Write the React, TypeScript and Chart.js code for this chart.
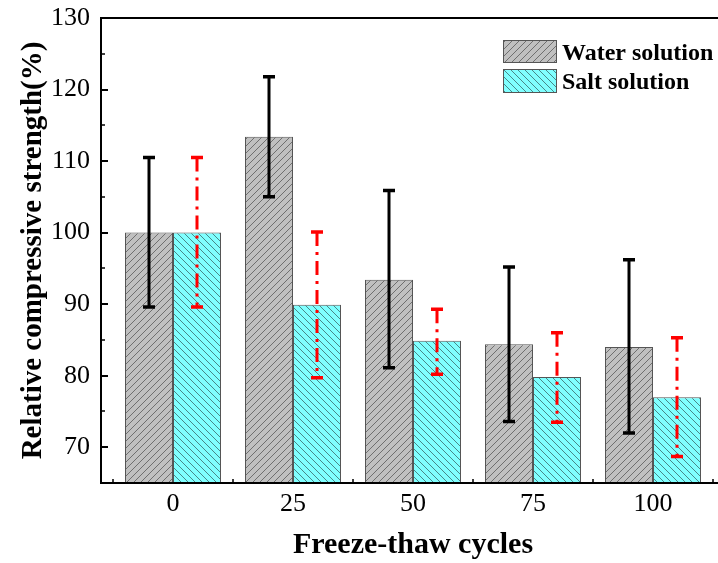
import React, { useEffect, useRef } from 'react';
import { Chart, registerables } from 'chart.js';

Chart.register(...registerables);

// ---- data ----
const cycles = [0, 25, 50, 75, 100];
const waterMean = [100, 113.4, 93.4, 84.4, 84.0];
const waterLow = [89.6, 105.0, 81.1, 73.6, 72.0];
const waterHigh = [110.5, 121.8, 105.9, 95.2, 96.2];
const saltMean = [100, 89.9, 84.9, 79.8, 77.0];
const saltLow = [89.6, 79.7, 80.2, 73.5, 68.7];
const saltHigh = [110.5, 100.1, 89.3, 86.0, 85.3];
const seriesNames = ['Water solution', 'Salt solution'];
const yTicks = [70, 80, 90, 100, 110, 120, 130];
const yMinorTicks = [75, 85, 95, 105, 115, 125];
const xMinorTicks = [-12.5, 12.5, 37.5, 62.5, 87.5, 112.5];
const xTitle = 'Freeze-thaw cycles';
const yTitle = 'Relative compressive strength(%)';

const FONT = '"Liberation Serif", "Times New Roman", serif';

function hatch(bg: string, line: string, dir: '/' | '\\') {
  const s = 7;
  const c = document.createElement('canvas');
  c.width = s;
  c.height = s;
  const g = c.getContext('2d')!;
  g.fillStyle = bg;
  g.fillRect(0, 0, s, s);
  g.strokeStyle = line;
  g.lineWidth = 0.8;
  g.beginPath();
  if (dir === '/') {
    g.moveTo(0, s); g.lineTo(s, 0);
    g.moveTo(-1, 1); g.lineTo(1, -1);
    g.moveTo(s - 1, s + 1); g.lineTo(s + 1, s - 1);
  } else {
    g.moveTo(0, 0); g.lineTo(s, s);
    g.moveTo(-1, s - 1); g.lineTo(1, s + 1);
    g.moveTo(s - 1, -1); g.lineTo(s + 1, 1);
  }
  g.stroke();
  return g.createPattern(c, 'repeat')!;
}

export default function App() {
  const ref = useRef<HTMLCanvasElement | null>(null);

  useEffect(() => {
    const canvas = ref.current!;
    const greyPat = hatch('#c0c0c0', '#5a5a5a', '/');
    const cyanPat = hatch('#80ffff', '#3a6a6a', '\\');

    const errPlugin = {
      id: 'errbars',
      afterDatasetsDraw(chart: any) {
        const ctx = chart.ctx;
        const ys = chart.scales.y;
        const sets = [
          { lo: waterLow, hi: waterHigh, color: '#000000', dash: [] as number[] },
          { lo: saltLow, hi: saltHigh, color: '#ff0000', dash: [14, 6, 3, 6] },
        ];
        sets.forEach((s, di) => {
          const meta = chart.getDatasetMeta(di);
          meta.data.forEach((bar: any, j: number) => {
            const x = bar.x;
            const yh = ys.getPixelForValue(s.hi[j]);
            const yl = ys.getPixelForValue(s.lo[j]);
            ctx.save();
            ctx.strokeStyle = s.color;
            ctx.lineWidth = 3;
            ctx.setLineDash(s.dash);
            ctx.beginPath();
            ctx.moveTo(x, yh);
            ctx.lineTo(x, yl);
            ctx.stroke();
            ctx.setLineDash([]);
            ctx.lineWidth = 3.5;
            ctx.beginPath();
            ctx.moveTo(x - 6, yh);
            ctx.lineTo(x + 6, yh);
            ctx.moveTo(x - 6, yl);
            ctx.lineTo(x + 6, yl);
            ctx.stroke();
            ctx.restore();
          });
        });
      },
      afterDraw(chart: any) {
        const ctx = chart.ctx;
        const a = chart.chartArea;
        const xs = chart.scales.x;
        const ys = chart.scales.y;
        ctx.save();
        ctx.strokeStyle = '#000';
        ctx.lineWidth = 2;
        ctx.beginPath();
        yTicks.forEach((v) => {
          const y = Math.round(ys.getPixelForValue(v));
          ctx.moveTo(a.left, y);
          ctx.lineTo(a.left + 7, y);
        });
        ctx.stroke();
        ctx.lineWidth = 1.5;
        ctx.beginPath();
        yMinorTicks.forEach((v) => {
          const y = Math.round(ys.getPixelForValue(v));
          ctx.moveTo(a.left, y);
          ctx.lineTo(a.left + 4, y);
        });
        xMinorTicks.forEach((v) => {
          const x = Math.round(xs.getPixelForValue(v));
          ctx.moveTo(x, a.bottom);
          ctx.lineTo(x, a.bottom - 4);
        });
        ctx.stroke();
        ctx.lineWidth = 2;
        ctx.beginPath();
        ctx.moveTo(a.left, a.top);
        ctx.lineTo(a.right, a.top);
        ctx.lineTo(a.right, a.bottom);
        ctx.lineTo(a.left, a.bottom);
        ctx.closePath();
        ctx.stroke();

        const items = [
          { pat: greyPat, y: 40, h: 23 },
          { pat: cyanPat, y: 69, h: 24 },
        ];
        items.forEach((it, i) => {
          ctx.fillStyle = it.pat;
          ctx.fillRect(503, it.y, 54, it.h);
          ctx.strokeStyle = '#555';
          ctx.lineWidth = 1;
          ctx.strokeRect(503.5, it.y + 0.5, 53, it.h - 1);
          ctx.fillStyle = '#000';
          ctx.font = `bold 24px ${FONT}`;
          ctx.textBaseline = 'alphabetic';
          ctx.textAlign = 'left';
          ctx.fillText(seriesNames[i], 562, it.y + 20);
        });
        ctx.restore();
      },
    };

    const chart = new Chart(canvas, {
      type: 'bar',
      data: {
        datasets: [
          {
            label: seriesNames[0],
            data: cycles.map((c, i) => ({ x: c, y: waterMean[i] })),
            backgroundColor: greyPat,
            borderColor: '#555555',
            borderWidth: 1,
            borderSkipped: false,
            base: 65,
            categoryPercentage: 0.8,
            barPercentage: 1.0,
          },
          {
            label: seriesNames[1],
            data: cycles.map((c, i) => ({ x: c, y: saltMean[i] })),
            backgroundColor: cyanPat,
            borderColor: '#555555',
            borderWidth: 1,
            borderSkipped: false,
            base: 65,
            categoryPercentage: 0.8,
            barPercentage: 1.0,
          },
        ] as any,
      },
      options: {
        animation: false,
        responsive: false,
        devicePixelRatio: 1,
        layout: { padding: { top: 18, right: 15, left: 0, bottom: 0 } },
        plugins: { legend: { display: false }, tooltip: { enabled: false } },
        scales: {
          x: {
            type: 'linear',
            min: -15,
            max: 115,
            offset: false,
            grid: { display: false, drawTicks: false, offset: false },
            border: { display: false },
            afterBuildTicks: (axis: any) => {
              axis.ticks = cycles.map((v) => ({ value: v }));
            },
            afterFit: (scale: any) => {
              scale.height = 80;
              scale.paddingLeft = 0;
              scale.paddingRight = 0;
            },
            ticks: {
              color: '#000',
              font: { family: FONT, size: 26 },
              padding: 6,
              maxRotation: 0,
              autoSkip: false,
              callback: (v: any) => String(v),
            },
            title: {
              display: true,
              text: xTitle,
              color: '#000',
              font: { family: FONT, size: 30, weight: 'bold' },
              padding: { top: 0, bottom: 0 },
            },
          },
          y: {
            type: 'linear',
            min: 65,
            max: 130,
            grid: { display: false, drawTicks: false },
            border: { display: false },
            afterBuildTicks: (axis: any) => {
              axis.ticks = yTicks.map((v) => ({ value: v }));
            },
            afterFit: (scale: any) => {
              scale.width = 101;
              scale.paddingTop = 0;
              scale.paddingBottom = 0;
            },
            ticks: {
              color: '#000',
              font: { family: FONT, size: 26 },
              padding: 11,
              autoSkip: false,
              callback: (v: any) => String(v),
            },
            title: {
              display: true,
              text: yTitle,
              color: '#000',
              font: { family: FONT, size: 29, weight: 'bold' },
              padding: { top: 16, bottom: 0 },
            },
          },
        },
      } as any,
      plugins: [errPlugin],
    });
    return () => chart.destroy();
  }, []);

  return (
    <div
      style={{
        position: 'fixed',
        left: 0,
        top: 0,
        width: 718,
        height: 563,
        overflow: 'hidden',
        background: '#fff',
      }}
    >
      <canvas ref={ref} width={740} height={563} style={{ width: 740, height: 563, display: 'block' }} />
    </div>
  );
}
